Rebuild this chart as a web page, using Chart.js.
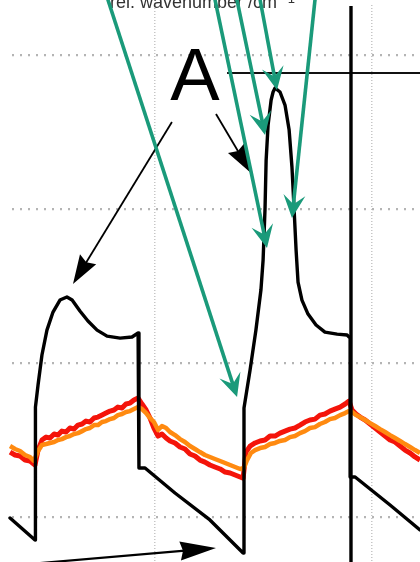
<!DOCTYPE html>
<html>
<head>
<meta charset="utf-8">
<script src="https://cdn.jsdelivr.net/npm/chart.js@4.4.1/dist/chart.umd.min.js"></script>
<style>
  html, body { margin: 0; padding: 0; background: #ffffff; }
  canvas { display: block; }
</style>
</head>
<body>
<canvas id="c" width="420" height="562"></canvas>
<script>
// Grid positions (in axis units)
const xTicks = [0, 1];
const yTicks = [0, 1, 2, 3];

// Black trace: pulsed signal with the sharp band A
const blackX = [-0.668, -0.553, -0.551, -0.539, -0.521, -0.498, -0.470, -0.438, -0.406, -0.382, -0.346, -0.309, -0.267, -0.221, -0.161, -0.106, -0.078,
  -0.074, -0.046, 0.092, 0.253, 0.406,
  0.410, 0.438, 0.465, 0.488, 0.498, 0.507, 0.512, 0.521, 0.535, 0.544, 0.553, 0.576, 0.599, 0.618, 0.631, 0.641, 0.650, 0.659, 0.677, 0.705, 0.742, 0.783, 0.839, 0.885, 0.899,
  0.899, 0.922, 1.083, 1.221];
const blackY = [-0.006, -0.149, 0.714, 0.857, 1.052, 1.214, 1.331, 1.409, 1.429, 1.409, 1.338, 1.273, 1.214, 1.175, 1.162, 1.169, 1.195,
  0.318, 0.318, 0.156, -0.019, -0.234,
  0.708, 0.955, 1.214, 1.474, 1.669, 2.006, 2.318, 2.545, 2.708, 2.760, 2.786, 2.760, 2.675, 2.513, 2.273, 1.994, 1.734, 1.526, 1.409, 1.318, 1.247, 1.201, 1.188, 1.182, 1.162,
  0.260, 0.260, 0.078, -0.084];

// Red trace
const redX = [-0.668, -0.645, -0.622, -0.599, -0.576, -0.553,
  -0.539, -0.521, -0.502, -0.484, -0.465, -0.447, -0.429, -0.410, -0.392, -0.373, -0.355, -0.336, -0.318, -0.300, -0.281, -0.263, -0.244, -0.226, -0.207, -0.189, -0.171, -0.152, -0.134, -0.115, -0.097, -0.078,
  -0.060, -0.041, -0.023, -0.005, 0.014, 0.032, 0.051, 0.069, 0.092, 0.115, 0.138, 0.161, 0.184, 0.207, 0.230, 0.253, 0.276, 0.300, 0.323, 0.346, 0.369, 0.392, 0.406,
  0.419, 0.438, 0.461, 0.484, 0.507, 0.530, 0.553, 0.576, 0.599, 0.622, 0.645, 0.668, 0.691, 0.714, 0.737, 0.760, 0.783, 0.806, 0.829, 0.853, 0.876, 0.894,
  0.908, 0.926, 0.945, 0.968, 0.991, 1.014, 1.037, 1.060, 1.083, 1.106, 1.129, 1.152, 1.175, 1.198, 1.221];
const redY = [0.422, 0.403, 0.396, 0.370, 0.364, 0.338,
  0.435, 0.500, 0.519, 0.513, 0.539, 0.532, 0.558, 0.552, 0.578, 0.571, 0.597, 0.604, 0.623, 0.617, 0.643, 0.649, 0.662, 0.675, 0.688, 0.695, 0.714, 0.708, 0.734, 0.740, 0.760, 0.773,
  0.734, 0.695, 0.643, 0.578, 0.526, 0.539, 0.513, 0.494, 0.481, 0.455, 0.442, 0.409, 0.396, 0.370, 0.357, 0.338, 0.325, 0.312, 0.292, 0.286, 0.273, 0.260, 0.253,
  0.422, 0.461, 0.481, 0.494, 0.500, 0.526, 0.526, 0.545, 0.558, 0.571, 0.578, 0.597, 0.617, 0.630, 0.636, 0.662, 0.669, 0.688, 0.701, 0.714, 0.734, 0.753,
  0.695, 0.669, 0.649, 0.630, 0.604, 0.578, 0.552, 0.526, 0.500, 0.487, 0.461, 0.435, 0.416, 0.390, 0.370];

// Orange trace
const orangeX = [-0.668, -0.645, -0.622, -0.599, -0.576, -0.558,
  -0.539, -0.521, -0.502, -0.484, -0.465, -0.447, -0.429, -0.410, -0.392, -0.373, -0.355, -0.336, -0.318, -0.300, -0.281, -0.263, -0.244, -0.226, -0.207, -0.189, -0.171, -0.152, -0.134, -0.115, -0.097, -0.078,
  -0.060, -0.041, -0.023, -0.005, 0.014, 0.032, 0.051, 0.069, 0.092, 0.115, 0.138, 0.161, 0.184, 0.207, 0.230, 0.253, 0.276, 0.300, 0.323, 0.346, 0.369, 0.392, 0.410,
  0.424, 0.442, 0.461, 0.484, 0.507, 0.530, 0.553, 0.576, 0.599, 0.622, 0.645, 0.668, 0.691, 0.714, 0.737, 0.760, 0.783, 0.806, 0.829, 0.853, 0.876, 0.894,
  0.908, 0.926, 0.945, 0.968, 0.991, 1.014, 1.037, 1.060, 1.083, 1.106, 1.129, 1.152, 1.175, 1.198, 1.221];
const orangeY = [0.461, 0.442, 0.429, 0.403, 0.390, 0.364,
  0.429, 0.468, 0.474, 0.481, 0.487, 0.500, 0.506, 0.519, 0.526, 0.539, 0.545, 0.558, 0.571, 0.578, 0.597, 0.597, 0.617, 0.623, 0.636, 0.643, 0.662, 0.669, 0.682, 0.688, 0.701, 0.714,
  0.701, 0.675, 0.643, 0.617, 0.565, 0.591, 0.578, 0.552, 0.532, 0.506, 0.487, 0.461, 0.442, 0.422, 0.403, 0.390, 0.377, 0.364, 0.351, 0.338, 0.325, 0.312, 0.318,
  0.370, 0.416, 0.435, 0.448, 0.455, 0.474, 0.481, 0.494, 0.500, 0.519, 0.526, 0.545, 0.558, 0.578, 0.584, 0.604, 0.617, 0.636, 0.643, 0.662, 0.675, 0.688,
  0.682, 0.662, 0.649, 0.630, 0.610, 0.591, 0.571, 0.552, 0.532, 0.513, 0.494, 0.474, 0.455, 0.435, 0.416];

// Reference marker lines (vertical cursor and horizontal level)
const cursorX = [0.903, 0.903];
const cursorY = [3.318, -0.292];
const levelX = [0.332, 1.221];
const levelY = [2.883, 2.883];

// Annotation arrows: [x1, y1, x2, y2] in axis units, tip at (x2, y2)
const greenArrows = [
  [-0.238, 3.45, 0.378, 0.779],
  [0.263, 3.45, 0.516, 1.747],
  [0.364, 3.45, 0.507, 2.481],
  [0.472, 3.45, 0.562, 2.773],
  [0.744, 3.45, 0.631, 1.942]
];
const blackArrows = [
  [0.078, 2.565, -0.378, 1.513],
  [0.281, 2.617, 0.442, 2.234],
  [-0.530, -0.299, 0.281, -0.201]
];
const bandLabel = { text: 'A', x: 0.184, y: 2.708 };
const topTitle = 'rel. wavenumber /cm';
const topTitleSup = '\u22121';

const pts = (xs, ys) => xs.map((x, i) => ({ x: x, y: ys[i] }));

function drawArrow(ctx, x1, y1, x2, y2, color, lw, headLen, halfW, notch) {
  const dx = x2 - x1, dy = y2 - y1;
  const len = Math.hypot(dx, dy);
  const ux = dx / len, uy = dy / len;
  const px = -uy, py = ux;
  const bx = x2 - ux * headLen, by = y2 - uy * headLen;
  const nx = x2 - ux * headLen * (1 - notch), ny = y2 - uy * headLen * (1 - notch);
  ctx.save();
  ctx.strokeStyle = color;
  ctx.fillStyle = color;
  ctx.lineWidth = lw;
  ctx.lineCap = 'butt';
  ctx.beginPath();
  ctx.moveTo(x1, y1);
  ctx.lineTo(nx + ux * 2, ny + uy * 2);
  ctx.stroke();
  ctx.beginPath();
  ctx.moveTo(x2, y2);
  ctx.lineTo(bx + px * halfW, by + py * halfW);
  ctx.lineTo(nx, ny);
  ctx.lineTo(bx - px * halfW, by - py * halfW);
  ctx.closePath();
  ctx.fill();
  ctx.restore();
}

const annotations = {
  id: 'annotations',
  afterDatasetsDraw(chart) {
    const ctx = chart.ctx;
    const xs = chart.scales.x, ys = chart.scales.y;
    const P = (x, y) => [xs.getPixelForValue(x), ys.getPixelForValue(y)];

    // thin black arrows
    blackArrows.forEach((a, i) => {
      const [x1, y1] = P(a[0], a[1]);
      const [x2, y2] = P(a[2], a[3]);
      if (i === 2) drawArrow(ctx, x1, y1, x2, y2, '#000', 2.2, 36, 9.5, 0.08);
      else drawArrow(ctx, x1, y1, x2, y2, '#000', 1.8, 29, 9.5, 0.12);
    });

    // band label
    ctx.save();
    const [lx, ly] = P(bandLabel.x, bandLabel.y);
    ctx.font = '74px "Liberation Sans", Arial, sans-serif';
    ctx.fillStyle = '#000';
    ctx.textAlign = 'center';
    ctx.textBaseline = 'alphabetic';
    ctx.fillText(bandLabel.text, lx, ly);

    // axis title of the panel above
    ctx.font = '18px "Liberation Sans", Arial, sans-serif';
    ctx.fillStyle = '#333';
    ctx.textAlign = 'left';
    ctx.fillText(topTitle, 110, 8);
    const w = ctx.measureText(topTitle).width;
    ctx.font = '13px "Liberation Sans", Arial, sans-serif';
    ctx.fillText(topTitleSup, 110 + w + 3, 3);
    ctx.restore();

    // green arrows
    greenArrows.forEach(a => {
      const [x1, y1] = P(a[0], a[1]);
      const [x2, y2] = P(a[2], a[3]);
      drawArrow(ctx, x1, y1, x2, y2, '#1a9a7a', 3.6, 23, 11, 0.4);
    });
  }
};

new Chart(document.getElementById('c'), {
  type: 'line',
  data: {
    datasets: [
      { label: 'cursor', data: pts(cursorX, cursorY), borderColor: '#000', borderWidth: 3.4, clip: false },
      { label: 'level', data: pts(levelX, levelY), borderColor: '#111', borderWidth: 2, clip: false },
      { label: 'signal', data: pts(blackX, blackY), borderColor: '#000', borderWidth: 3.4, clip: false, borderJoinStyle: 'round', borderCapStyle: 'round' },
      { label: 'orange', data: pts(orangeX, orangeY), borderColor: '#ff8a10', borderWidth: 4.5, clip: false, borderJoinStyle: 'round' },
      { label: 'red', data: pts(redX, redY), borderColor: '#f4140a', borderWidth: 5, clip: false, borderJoinStyle: 'round' }
    ]
  },
  options: {
    responsive: false,
    animation: false,
    devicePixelRatio: 1,
    layout: { padding: { left: 12, top: 5, right: 0, bottom: 0 } },
    elements: { point: { radius: 0 }, line: { tension: 0 } },
    plugins: { legend: { display: false }, tooltip: { enabled: false } },
    scales: {
      x: {
        type: 'linear', min: -0.659, max: 1.221,
        afterBuildTicks: s => { s.ticks = xTicks.map(v => ({ value: v })); },
        ticks: { display: false },
        grid: { color: '#c6c6c6', lineWidth: 1.5, drawTicks: false, borderDash: [1, 2] },
        border: { display: false, dash: [1, 2] }
      },
      y: {
        type: 'linear', min: -0.292, max: 3.325,
        afterBuildTicks: s => { s.ticks = yTicks.map(v => ({ value: v })); },
        ticks: { display: false },
        grid: { color: '#b4b4b4', lineWidth: 2.2, drawTicks: false, borderDash: [2, 6] },
        border: { display: false, dash: [2, 6] }
      }
    }
  },
  plugins: [annotations]
});
</script>
</body>
</html>
